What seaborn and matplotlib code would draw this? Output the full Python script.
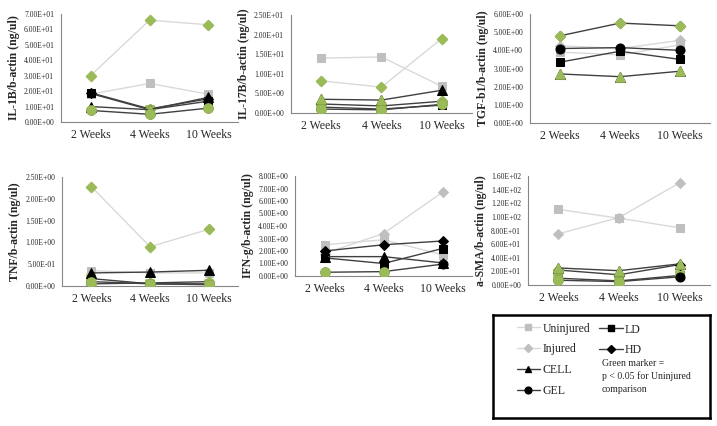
import numpy as np
import pandas as pd
import seaborn as sns
import matplotlib.pyplot as plt
from matplotlib.lines import Line2D
from matplotlib.ticker import FuncFormatter

weeks = ['2 Weeks', '4 Weeks', '10 Weeks']
groups = ['Uninjured', 'Injured', 'LD', 'HD', 'CELL', 'GEL']

# values, one dict per panel
il1b = {'Uninjured': [18, 25, 18], 'Injured': [30, 66, 63], 'LD': [18.5, 8, 13.5],
        'HD': [19, 8.5, 15], 'CELL': [10, 8, 16], 'GEL': [7.5, 5, 9]}
il1b_sig = {'Uninjured': [0, 0, 0], 'Injured': [1, 1, 1], 'LD': [0, 1, 0],
            'HD': [0, 1, 0], 'CELL': [0, 1, 0], 'GEL': [1, 1, 1]}

il17b = {'Uninjured': [14, 14.3, 6.8], 'Injured': [8.2, 6.6, 19], 'LD': [1.5, 1.0, 2.0],
         'HD': [2.3, 1.8, 3.0], 'CELL': [3.5, 3.3, 5.8], 'GEL': [1.0, 0.8, 2.2]}
il17b_sig = {'Uninjured': [0, 0, 0], 'Injured': [1, 1, 1], 'LD': [1, 1, 0],
             'HD': [1, 1, 1], 'CELL': [1, 1, 0], 'GEL': [1, 1, 1]}

tgfb1 = {'Uninjured': [3.9, 3.75, 4.3], 'Injured': [4.25, 4.1, 4.55], 'LD': [3.35, 3.95, 3.5],
         'HD': [4.8, 5.5, 5.35], 'CELL': [2.7, 2.55, 2.85], 'GEL': [4.1, 4.15, 4.0]}
tgfb1_sig = {'Uninjured': [0, 0, 0], 'Injured': [0, 0, 0], 'LD': [0, 0, 0],
             'HD': [1, 1, 1], 'CELL': [1, 1, 1], 'GEL': [0, 0, 0]}

tnf = {'Uninjured': [0.35, 0.3, 0.3], 'Injured': [2.28, 0.9, 1.3], 'LD': [0.17, 0.05, 0.05],
       'HD': [0.05, 0.07, 0.1], 'CELL': [0.3, 0.32, 0.36], 'GEL': [0.1, 0.05, 0.03]}
tnf_sig = {'Uninjured': [0, 0, 0], 'Injured': [1, 1, 1], 'LD': [1, 1, 1],
           'HD': [1, 1, 1], 'CELL': [0, 0, 0], 'GEL': [1, 1, 1]}

ifng = {'Uninjured': [2.5, 2.9, 1.7], 'Injured': [1.8, 3.4, 6.7], 'LD': [1.45, 1.0, 2.2],
        'HD': [2.0, 2.5, 2.8], 'CELL': [1.55, 1.55, 1.05], 'GEL': [0.3, 0.35, 0.95]}
ifng_sig = {'Uninjured': [0, 0, 0], 'Injured': [0, 0, 0], 'LD': [0, 0, 0],
            'HD': [0, 0, 0], 'CELL': [0, 0, 0], 'GEL': [1, 1, 0]}

asma = {'Uninjured': [111, 98, 84], 'Injured': [75, 99, 150], 'LD': [10, 6, 14],
        'HD': [22, 15, 30], 'CELL': [25, 21, 31], 'GEL': [7, 5, 12]}
asma_sig = {'Uninjured': [0, 0, 0], 'Injured': [0, 0, 0], 'LD': [1, 1, 1],
            'HD': [1, 1, 0], 'CELL': [1, 1, 1], 'GEL': [1, 1, 0]}

GREEN = '#9BBB59'
styles = {
    'Uninjured': ('s', '#BFBFBF', '#D9D9D9', 6),
    'Injured': ('D', '#BFBFBF', '#D9D9D9', 5),
    'LD': ('s', 'black', '#404040', 6),
    'HD': ('D', 'black', '#404040', 5),
    'CELL': ('^', 'black', '#404040', 6.5),
    'GEL': ('o', 'black', '#404040', 6.5),
}

W, H = 717, 426


def rect(l, r, t, b):
    return [l / W, 1 - b / H, (r - l) / W, (b - t) / H]


panels = [
    (il1b, il1b_sig, 'IL-1B/b-actin (ng/ul)', 70, 10, rect(61, 238, 14, 122)),
    (il17b, il17b_sig, 'IL-17B/b-actin (ng/ul)', 25, 5, rect(291, 472, 15, 113)),
    (tgfb1, tgfb1_sig, 'TGF-b1/b-actin (ng/ul)', 6, 1, rect(530, 710, 14, 123)),
    (tnf, tnf_sig, 'TNF/b-actin (ng/ul)', 2.5, 0.5, rect(62, 238, 177, 286)),
    (ifng, ifng_sig, 'IFN-g/b-actin (ng/ul)', 8, 1, rect(295, 472, 176, 276)),
    (asma, asma_sig, 'a-SMA/b-actin (ng/ul)', 160, 20, rect(528, 710, 176, 285)),
]

sns.set_style("white")
plt.rcParams['font.family'] = ['Liberation Serif', 'DejaVu Serif']

fig = plt.figure(figsize=(W / 100, H / 100), dpi=100)

for vals, sig, ylabel, ymax, step, pos in panels:
    ax = fig.add_axes(pos)
    for i, g in enumerate(groups):
        m, mc, lc, ms = styles[g]
        df = pd.DataFrame({'x': np.arange(len(weeks)), 'value': vals[g], 'sig': sig[g]})
        sns.lineplot(data=df, x='x', y='value', ax=ax, color=lc, linewidth=1,
                     marker=m, markersize=ms, markerfacecolor=mc, markeredgecolor=mc,
                     sort=False, legend=False, zorder=2 + i * 0.1)
        green = df[df['sig'] == 1]
        if len(green):
            sns.scatterplot(data=green, x='x', y='value', ax=ax, color=GREEN, marker=m,
                            s=ms ** 2, edgecolor=GREEN, linewidth=1.2, legend=False,
                            zorder=2.05 + i * 0.1)
    ax.set_xlim(-0.5, len(weeks) - 0.5)
    ax.set_ylim(0, ymax)
    ax.set_xticks(np.arange(len(weeks)))
    ax.set_xticklabels(weeks, fontsize=8.5)
    ax.set_xticks(np.arange(len(weeks) + 1) - 0.5, minor=True)
    ax.set_yticks(np.arange(0, ymax + step / 2, step))
    ax.yaxis.set_major_formatter(FuncFormatter(lambda v, p: f"{v:.2E}"))
    ax.tick_params(axis='x', which='major', length=0, pad=5)
    ax.tick_params(axis='x', which='minor', length=3, direction='out', color='#868686')
    ax.tick_params(axis='y', length=3, direction='out', color='#868686', labelsize=5.5, pad=2)
    ax.set_xlabel('')
    ax.set_ylabel(ylabel, fontsize=8.5, fontweight='bold', labelpad=3)
    for s in ['top', 'right']:
        ax.spines[s].set_visible(False)
    for s in ['left', 'bottom']:
        ax.spines[s].set_color('#868686')
        ax.spines[s].set_linewidth(0.8)

# legend box
lax = fig.add_axes(rect(493, 710, 315, 418))
lax.set_xticks([])
lax.set_yticks([])
for s in lax.spines.values():
    s.set_visible(True)
    s.set_color('black')
    s.set_linewidth(1.8)


def handle(g):
    m, mc, lc, ms = styles[g]
    return Line2D([0], [0], color=lc, linewidth=1, marker=m, markersize=ms * 0.75,
                  markerfacecolor=mc, markeredgecolor=mc)


col1 = ['Uninjured', 'Injured', 'CELL', 'GEL']
col2 = ['LD', 'HD']
leg1 = lax.legend([handle(g) for g in col1], col1, loc='upper left',
                  bbox_to_anchor=(0.06, 1.03), frameon=False, fontsize=8.5,
                  handlelength=2, handletextpad=0.2, labelspacing=0.75)
lax.add_artist(leg1)
lax.legend([handle(g) for g in col2], col2, loc='upper left',
           bbox_to_anchor=(0.44, 1.02), frameon=False, fontsize=8.5,
           handlelength=2, handletextpad=0.2, labelspacing=0.75)
lax.text(0.5, 0.57, 'Green marker =\np < 0.05 for Uninjured\ncomparison',
         transform=lax.transAxes, fontsize=7, va='top', ha='left', linespacing=1.45)

fig.savefig('out.png', dpi=100)
